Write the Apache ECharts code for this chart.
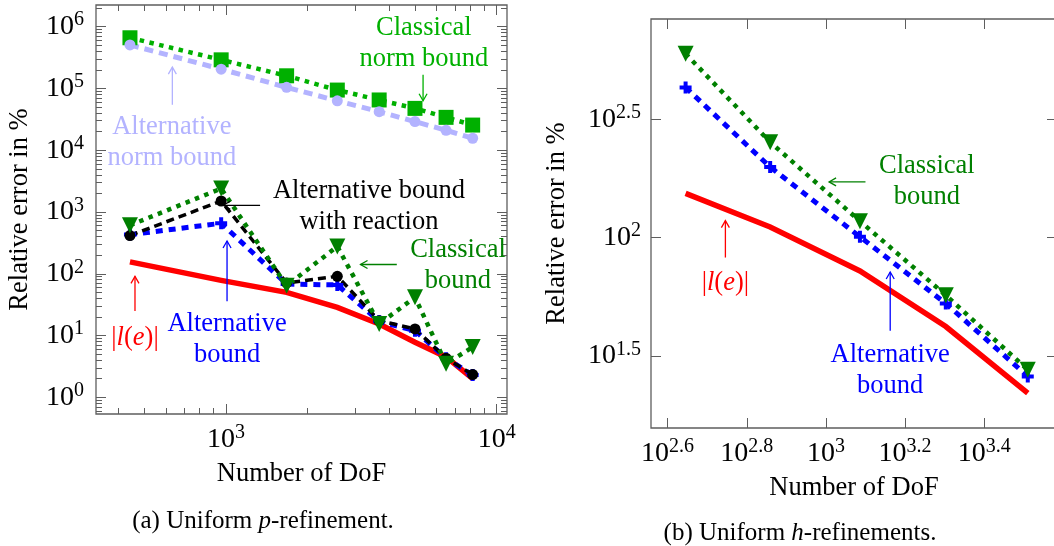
<!DOCTYPE html>
<html>
<head>
<meta charset="utf-8">
<script src="https://cdn.jsdelivr.net/npm/echarts@6/dist/echarts.min.js"></script>
<style>
  html, body { margin: 0; padding: 0; background: #fff; }
  #chart { width: 1054px; height: 546px; }
</style>
</head>
<body>
<div id="chart"></div>
<script>
// ---- (a) uniform p-refinement ----
const pDof          = [442, 960, 1675, 2578, 3680, 4990, 6500, 8150];
const pClassicalNorm = [6.6e5, 2.9e5, 1.6e5, 9.4e4, 6.5e4, 4.75e4, 3.4e4, 2.55e4];
const pAltNorm      = [5.06e5, 2.05e5, 1.04e5, 6.3e4, 4.2e4, 2.9e4, 2.1e4, 1.56e4];
const pClassical    = [610, 2390, 64, 277, 15.4, 41.6, 3.5, 6.5];
const pAltReaction  = [415, 1505, 71, 91, 17.4, 12.8, 4.3, 2.34];
const pAlt          = [430, 656, 68, 66, 17, 12, 4.3, 2.3];
const pLe           = [156, 78, 50, 28.6, 15.4, 7.8, 4.5, 2.0];

// ---- (b) uniform h-refinements ----
const hDof       = [442, 723, 1219, 2009, 3237];
const hClassical = [600, 253.5, 117.5, 57.1, 27.6];
const hAlt       = [432, 199, 100.9, 52.7, 25.9];
const hLe        = [154, 111, 72.3, 42.1, 22.0];

// tick exponents (base 10)
const pXTickExp = [3, 4];
const pYTickExp = [0, 1, 2, 3, 4, 5, 6];
const hXTickExp = [2.6, 2.8, 3, 3.2, 3.4];
const hYTickExp = [1.5, 2, 2.5];

// ---- styling ----
const FONT = 'Liberation Serif';
const FRAME = '#5e5e5e';
const C_NORM_CL = '#00b000';
const C_NORM_ALT = '#b3b3ff';
const C_CL = '#008000';
const C_ALT = '#0000ff';
const C_REACT = '#000000';
const C_LE = '#ff0000';

const pow10 = e => Math.pow(10, e);
const pair = (xs, ys) => xs.map((x, i) => [x, ys[i]]);

// minor ticks at 2..9 times every decade inside [lo, hi]
function minorTicks(lo, hi) {
  const out = [];
  for (let k = Math.floor(Math.log10(lo)) - 1; k <= Math.ceil(Math.log10(hi)); k++) {
    for (let m = 2; m <= 9; m++) {
      const v = m * Math.pow(10, k);
      if (v > lo && v < hi) out.push(v);
    }
  }
  return out;
}

const pXRange = [pow10(2.52), pow10(4.038)];
const pYRange = [pow10(-0.27), pow10(6.35)];
const hXRange = [pow10(2.558), pow10(3.584)];
const hYRange = [pow10(1.195), pow10(2.925)];

function expLabel(v) {
  const e = Math.round(Math.log10(v) * 10) / 10;
  return '{b|10}{s|' + e + '}';
}
const labelRich = {
  b: { fontFamily: FONT, fontSize: 28, color: '#000' },
  s: { fontFamily: FONT, fontSize: 20, color: '#000', padding: [0, 0, 13, 0] }
};

// one log axis: ticks inside, optional labels
function axis(dim, grid, pos, range, ticks, opts) {
  opts = opts || {};
  const a = {
    type: 'log', logBase: 10, gridIndex: grid, position: pos,
    min: range[0], max: range[1],
    axisLine: { show: false, onZero: false },
    splitLine: { show: false },
    minorTick: { show: false },
    axisTick: {
      show: true, inside: true, length: opts.len || 10,
      customValues: ticks,
      lineStyle: { color: FRAME, width: 1 }
    },
    axisLabel: opts.labels ? {
      show: true, customValues: ticks, margin: opts.margin,
      formatter: expLabel, rich: labelRich
    } : { show: false }
  };
  if (opts.name) {
    a.name = opts.name;
    a.nameLocation = 'middle';
    a.nameGap = opts.nameGap;
    a.nameRotate = dim === 'y' ? 90 : 0;
    a.nameTextStyle = { fontFamily: FONT, fontSize: 26.5, color: '#000' };
  }
  return a;
}

const pXMajor = pXTickExp.map(pow10);
const pYMajor = pYTickExp.map(pow10);
const hXMajor = hXTickExp.map(pow10);
const hYMajor = hYTickExp.map(pow10);

const xAxes = [
  axis('x', 0, 'bottom', pXRange, pXMajor, { labels: true, margin: 9, name: 'Number of DoF', nameGap: 47 }),
  axis('x', 0, 'top', pXRange, pXMajor),
  axis('x', 0, 'bottom', pXRange, minorTicks(pXRange[0], pXRange[1]), { len: 6 }),
  axis('x', 0, 'top', pXRange, minorTicks(pXRange[0], pXRange[1]), { len: 6 }),
  axis('x', 1, 'bottom', hXRange, hXMajor, { labels: true, margin: 9, name: 'Number of DoF', nameGap: 47 }),
  axis('x', 1, 'top', hXRange, hXMajor)
];
const yAxes = [
  axis('y', 0, 'left', pYRange, pYMajor, { labels: true, margin: 12, name: 'Relative error in %', nameGap: 62 }),
  axis('y', 0, 'right', pYRange, pYMajor),
  axis('y', 0, 'left', pYRange, minorTicks(pYRange[0], pYRange[1]), { len: 6 }),
  axis('y', 0, 'right', pYRange, minorTicks(pYRange[0], pYRange[1]), { len: 6 }),
  axis('y', 1, 'left', hYRange, hYMajor, { labels: true, margin: 10, name: 'Relative error in %', nameGap: 80 }),
  axis('y', 1, 'right', hYRange, hYMajor)
];

const PLUS = 'path://M4,0H8V4H12V8H8V12H4V8H0V4H4Z';

function line(name, data, xi, yi, color, width, dash, symbol, size, extra) {
  return Object.assign({
    type: 'line', name: name, data: data, xAxisIndex: xi, yAxisIndex: yi,
    color: color, symbol: symbol, symbolSize: size, showSymbol: symbol !== 'none',
    itemStyle: { color: color, borderWidth: 0 },
    lineStyle: { color: color, width: width, type: dash, cap: 'butt', join: 'miter' },
    emphasis: { disabled: true }, animation: false
  }, extra || {});
}

const DOT = [4.5, 5.5];

// annotation: text block centre (log10 x, log10 y) + arrow from -> to (log10)
const pNotes = [
  { text: 'Classical\nnorm bound', color: C_NORM_CL, t: [3.731, 5.729], a: [[3.728, 5.22], [3.728, 4.80]] },
  { text: 'Alternative\nnorm bound', color: C_NORM_ALT, t: [2.80, 4.121], a: [[2.802, 4.735], [2.802, 5.345]] },
  { text: 'Alternative bound\nwith reaction', color: '#000', t: [3.528, 3.087], a: [[3.126, 3.108], [2.990, 3.108]] },
  { text: 'Classical\nbound', color: C_CL, t: [3.857, 2.134], a: [[3.631, 2.150], [3.497, 2.150]] },
  { text: 'Alternative\nbound', color: C_ALT, t: [3.004, 0.939], a: [[3.004, 1.553], [3.004, 2.530]] },
  { text: '|{i|l}({i|e})|', color: C_LE, t: [2.664, 0.966], a: [[2.664, 1.396], [2.664, 1.958]] }
];
const hNotes = [
  { text: 'Classical\nbound', color: C_CL, t: [3.255, 2.239], a: [[3.100, 2.236], [3.008, 2.236]] },
  { text: '|{i|l}({i|e})|', color: C_LE, t: [2.746, 1.810], a: [[2.746, 1.916], [2.746, 2.072]] },
  { text: 'Alternative\nbound', color: C_ALT, t: [3.1625, 1.439], a: [[3.1625, 1.606], [3.1625, 1.855]] }
];

function noteSeries(notes, xi, yi) {
  return {
    type: 'custom', xAxisIndex: xi, yAxisIndex: yi, clip: false, z: 5,
    silent: true, animation: false,
    data: notes.map(n => [pow10(n.t[0]), pow10(n.t[1]),
      pow10(n.a[0][0]), pow10(n.a[0][1]), pow10(n.a[1][0]), pow10(n.a[1][1])]),
    encode: { x: [0, 2, 4], y: [1, 3, 5] },
    renderItem: function (params, api) {
      const n = notes[params.dataIndex];
      const t = api.coord([api.value(0), api.value(1)]);
      const p0 = api.coord([api.value(2), api.value(3)]);
      const p1 = api.coord([api.value(4), api.value(5)]);
      const dx = p1[0] - p0[0], dy = p1[1] - p0[1];
      const L = Math.sqrt(dx * dx + dy * dy) || 1;
      const ux = dx / L, uy = dy / L, nx = -uy, ny = ux;
      const hl = 7, hw = 4;
      return {
        type: 'group',
        children: [
          {
            type: 'text',
            style: {
              text: n.text, x: t[0], y: t[1], fill: n.color,
              fontFamily: FONT, fontSize: 26.5, lineHeight: 31,
              align: 'center', verticalAlign: 'middle',
              rich: { i: { fontFamily: FONT, fontSize: 26.5, fontStyle: 'italic', fill: n.color } }
            }
          },
          {
            type: 'line',
            shape: { x1: p0[0], y1: p0[1], x2: p1[0], y2: p1[1] },
            style: { stroke: n.color, lineWidth: 1.3 }
          },
          {
            type: 'polyline',
            shape: { points: [
              [p1[0] - ux * hl + nx * hw, p1[1] - uy * hl + ny * hw],
              [p1[0], p1[1]],
              [p1[0] - ux * hl - nx * hw, p1[1] - uy * hl - ny * hw]
            ] },
            style: { stroke: n.color, lineWidth: 1.3, fill: null }
          }
        ]
      };
    }
  };
}

const option = {
  backgroundColor: '#fff',
  animation: false,
  grid: [
    { left: 96, top: 5, width: 411, height: 409, outerBoundsMode: 'none', show: true, borderColor: FRAME, borderWidth: 1.3, backgroundColor: 'transparent' },
    { left: 651, top: 19, width: 406, height: 409, outerBoundsMode: 'none', show: true, borderColor: FRAME, borderWidth: 1.3, backgroundColor: 'transparent' }
  ],
  xAxis: xAxes,
  yAxis: yAxes,
  series: [
    line('Classical norm bound', pair(pDof, pClassicalNorm), 0, 0, C_NORM_CL, 4.5, DOT, 'rect', 15),
    line('Alternative norm bound', pair(pDof, pAltNorm), 0, 0, C_NORM_ALT, 5, [9, 6], 'circle', 11),
    line('|l(e)|', pair(pDof, pLe), 0, 0, C_LE, 5.5, 'solid', 'none', 0),
    line('Alternative bound', pair(pDof, pAlt), 0, 0, C_ALT, 5, [7, 6], PLUS, 12),
    line('Alternative bound with reaction', pair(pDof, pAltReaction), 0, 0, C_REACT, 3.5, [8, 5], 'circle', 11),
    line('Classical bound', pair(pDof, pClassical), 0, 0, C_CL, 4.5, DOT, 'triangle', 16, { symbolRotate: 180 }),
    noteSeries(pNotes, 0, 0),

    line('|l(e)|', pair(hDof, hLe), 4, 4, C_LE, 5.5, 'solid', 'none', 0),
    line('Alternative bound', pair(hDof, hAlt), 4, 4, C_ALT, 5, [7, 6], PLUS, 12),
    line('Classical bound', pair(hDof, hClassical), 4, 4, C_CL, 4.5, DOT, 'triangle', 16, { symbolRotate: 180 }),
    noteSeries(hNotes, 4, 4)
  ],
  graphic: [
    {
      type: 'text', x: 263, y: 521,
      style: {
        text: '(a) Uniform {i|p}-refinement.', fill: '#000',
        fontFamily: FONT, fontSize: 25, align: 'center', verticalAlign: 'middle',
        rich: { i: { fontFamily: FONT, fontSize: 25, fontStyle: 'italic', fill: '#000' } }
      }
    },
    {
      type: 'text', x: 800, y: 533,
      style: {
        text: '(b) Uniform {i|h}-refinements.', fill: '#000',
        fontFamily: FONT, fontSize: 25, align: 'center', verticalAlign: 'middle',
        rich: { i: { fontFamily: FONT, fontSize: 25, fontStyle: 'italic', fill: '#000' } }
      }
    }
  ]
};

const chart = echarts.init(document.getElementById('chart'), null, { renderer: 'canvas' });
chart.setOption(option);
</script>
</body>
</html>
